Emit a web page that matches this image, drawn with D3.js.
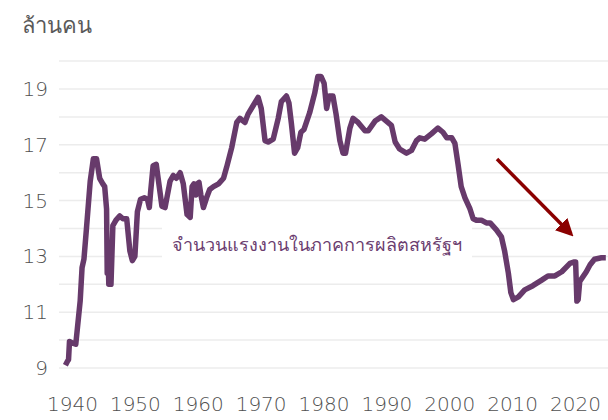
<!DOCTYPE html>
<html>
<head>
<meta charset="utf-8">
<script src="https://cdn.jsdelivr.net/npm/d3@7"></script>
<style>
    body { margin: 0; background: #fff; }
    svg { display: block; }
</style>
</head>
<body>
<script>

// us manufacturing employment, millions
var years = [1938.95, 1939.3, 1939.45, 1939.6, 1940.0, 1940.6, 1941.3, 1941.6, 1941.9, 1942.3,
    1942.9, 1943.4, 1943.9, 1944.4, 1944.9, 1945.2, 1945.5, 1945.6, 1945.8, 1945.85,
    1946.2, 1946.5, 1947.0, 1947.6, 1948.1, 1948.7, 1949.2, 1949.6, 1950.0, 1950.4,
    1950.9, 1951.5, 1952.0, 1952.3, 1952.5, 1952.9, 1953.4, 1953.7, 1954.3, 1954.8,
    1955.6, 1956.1, 1956.6, 1957.2, 1957.7, 1958.3, 1958.8, 1959.1, 1959.4, 1959.7,
    1959.9, 1960.2, 1960.5, 1960.9, 1961.4, 1961.9, 1962.5, 1963.3, 1964.1, 1964.6,
    1965.4, 1966.2, 1966.7, 1967.5, 1968.0, 1968.8, 1969.6, 1970.1, 1970.7, 1971.2,
    1972.0, 1972.8, 1973.3, 1974.1, 1974.5, 1974.9, 1975.4, 1975.9, 1976.4, 1976.9,
    1977.8, 1978.6, 1979.1, 1979.6, 1980.1, 1980.5, 1980.9, 1981.5, 1982.0, 1982.6,
    1983.1, 1983.5, 1984.2, 1984.7, 1985.5, 1986.6, 1987.1, 1988.2, 1989.2, 1990.0,
    1990.8, 1991.4, 1992.1, 1993.2, 1994.0, 1994.8, 1995.3, 1996.1, 1997.2, 1998.2,
    1999.0, 1999.6, 2000.4, 2000.9, 2001.4, 2001.9, 2002.5, 2003.3, 2003.8, 2004.3,
    2005.1, 2005.9, 2006.5, 2007.5, 2008.3, 2008.8, 2009.4, 2009.8, 2010.2, 2011.0,
    2012.0, 2013.3, 2014.7, 2015.7, 2016.8, 2017.9, 2019.2, 2019.9, 2020.1, 2020.3,
    2020.5, 2020.75, 2021.8, 2022.4, 2023.1, 2024.2, 2024.9];

var workers = [9.1, 9.25, 9.3, 9.95, 9.9, 9.85, 11.4, 12.6, 12.9, 14.0,
    15.7, 16.5, 16.5, 15.8, 15.6, 15.5, 14.7, 12.4, 12.5, 12.0,
    12.0, 14.1, 14.3, 14.45, 14.35, 14.35, 13.2, 12.85, 13.0, 14.6,
    15.05, 15.1, 15.05, 14.75, 15.3, 16.25, 16.3, 15.8, 14.8, 14.75,
    15.7, 15.9, 15.8, 16.0, 15.6, 14.5, 14.4, 15.5, 15.6, 15.2,
    15.6, 15.65, 15.2, 14.75, 15.1, 15.4, 15.5, 15.6, 15.8, 16.2,
    16.9, 17.8, 17.95, 17.8, 18.1, 18.4, 18.7, 18.3, 17.15, 17.1,
    17.2, 17.95, 18.55, 18.75, 18.5, 17.75, 16.7, 16.9, 17.45, 17.55,
    18.15, 18.85, 19.45, 19.45, 19.2, 18.3, 18.75, 18.75, 18.1, 17.15,
    16.7, 16.7, 17.6, 17.95, 17.8, 17.5, 17.5, 17.85, 18.0, 17.85,
    17.7, 17.1, 16.85, 16.7, 16.8, 17.15, 17.25, 17.2, 17.4, 17.6,
    17.45, 17.25, 17.25, 17.05, 16.3, 15.5, 15.1, 14.7, 14.35, 14.3,
    14.3, 14.2, 14.2, 13.95, 13.7, 13.2, 12.4, 11.7, 11.45, 11.55,
    11.8, 11.95, 12.15, 12.3, 12.3, 12.45, 12.75, 12.8, 12.8, 11.4,
    11.45, 12.1, 12.45, 12.7, 12.9, 12.95, 12.95];

var yTicks = [9, 11, 13, 15, 17, 19];
var gridValues = [9, 10, 11, 12, 13, 14, 15, 16, 17, 18, 19, 20];
var xTicks = [1940, 1950, 1960, 1970, 1980, 1990, 2000, 2010, 2020];

var unitLabel = "ล้านคน";
var seriesLabel = "จำนวนแรงงานในภาคการผลิตสหรัฐฯ";

var width = 608, height = 420;
var lineColor = "#673a6b";
var tickFont = "'DejaVu Sans', sans-serif";

var svg = d3.select("body")
        .append("svg")
        .attr("width", width)
        .attr("height", height)
        .style("font-family", "'Open Sans', sans-serif");

var x = d3.scaleLinear()
        .domain([1940, 2020])
        .range([72, 575]);

var y = d3.scaleLinear()
        .domain([9, 19])
        .range([368, 89]);

// horizontal grid, one line per million
svg.append("g")
        .selectAll("line")
        .data(gridValues)
        .enter()
        .append("line")
        .attr("x1", 59)
        .attr("x2", width)
        .attr("y1", function(d) { return y(d); })
        .attr("y2", function(d) { return y(d); })
        .attr("stroke", "#ececec")
        .attr("stroke-width", 1.5);

// y labels
var yAxis = svg.append("g")
        .attr("transform", "translate(48,0)")
        .call(d3.axisLeft(y).tickValues(yTicks).tickSize(0).tickPadding(0).tickFormat(d3.format("d")));
yAxis.select(".domain").remove();
yAxis.selectAll("text")
        .attr("fill", "#505050")
        .style("font-family", tickFont)
        .style("font-size", "20px")
        .style("font-weight", 200);

// x labels
var xAxis = svg.append("g")
        .attr("transform", "translate(0,397)")
        .call(d3.axisBottom(x).tickValues(xTicks).tickSize(0).tickPadding(0).tickFormat(d3.format("d")));
xAxis.select(".domain").remove();
xAxis.selectAll("text")
        .attr("fill", "#505050")
        .style("font-family", tickFont)
        .style("font-size", "20px")
        .style("font-weight", 200);

svg.append("text")
        .attr("x", 22)
        .attr("y", 33)
        .attr("fill", "#595959")
        .style("font-size", "22px")
        .text(unitLabel);

// label box hides the grid behind it
svg.append("rect")
        .attr("x", 162)
        .attr("y", 224)
        .attr("width", 310)
        .attr("height", 38)
        .attr("fill", "#fff");

svg.append("text")
        .attr("x", 172)
        .attr("y", 251)
        .attr("fill", "#6b3d6f")
        .style("font-size", "18px")
        .text(seriesLabel);

var line = d3.line()
        .x(function(d) { return x(d[0]); })
        .y(function(d) { return y(d[1]); });

svg.append("path")
        .datum(d3.zip(years, workers))
        .attr("d", line)
        .attr("fill", "none")
        .attr("stroke", lineColor)
        .attr("stroke-width", 5.5)
        .attr("stroke-linejoin", "round");

// red arrow pointing down
svg.append("defs")
        .append("marker")
        .attr("id", "head")
        .attr("viewBox", "0 0 10 10")
        .attr("refX", 8)
        .attr("refY", 5)
        .attr("markerWidth", 5)
        .attr("markerHeight", 5)
        .attr("orient", "auto")
        .append("path")
        .attr("d", "M0,0 L10,5 L0,10 Z")
        .attr("fill", "#8b0000");

svg.append("line")
        .attr("x1", 497)
        .attr("y1", 159)
        .attr("x2", 571)
        .attr("y2", 234)
        .attr("stroke", "#8b0000")
        .attr("stroke-width", 3.5)
        .attr("marker-end", "url(#head)");

</script>
</body>
</html>
